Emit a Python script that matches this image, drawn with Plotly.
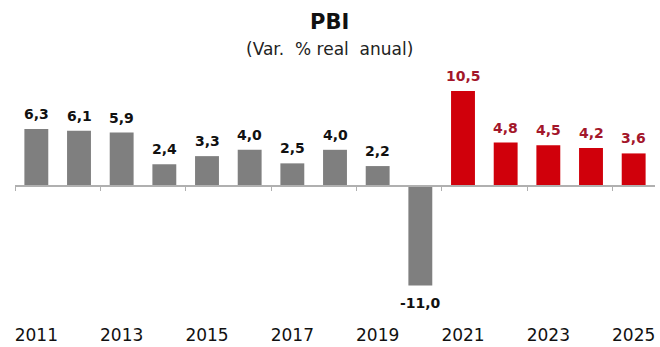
import plotly.graph_objects as go

years = [str(y) for y in range(2011, 2026)]
values = [6.3, 6.1, 5.9, 2.4, 3.3, 4.0, 2.5, 4.0, 2.2, -11.0, 10.5, 4.8, 4.5, 4.2, 3.6]
tick_years = ["2011", "2013", "2015", "2017", "2019", "2021", "2023", "2025"]

GRAY = "#7f7f7f"
RED = "#d0000b"
LABEL_RED = "#a3162a"

bar_colors = [GRAY if int(y) <= 2020 else RED for y in years]
label_colors = ["#111111" if int(y) <= 2020 else LABEL_RED for y in years]
labels = [f"{v:.1f}".replace(".", ",") for v in values]

YMIN, YMAX = -13.5, 11.5
n = len(years)

fig = go.Figure()
fig.add_trace(go.Bar(
    x=years, y=values,
    marker=dict(color=bar_colors, line=dict(width=0)),
    hoverinfo="x+y",
))
# invisible helper trace so the tick-mark baseline axis is drawn
fig.add_trace(go.Scatter(x=[-0.5, n - 0.5], y=[0, 0], xaxis="x2", mode="lines",
                         line=dict(width=0), hoverinfo="skip", showlegend=False))

annotations = [
    dict(x=i, y=v, xref="x", yref="y", text=lab, showarrow=False,
         xanchor="center", yanchor="bottom" if v >= 0 else "top",
         yshift=5 if v >= 0 else -8,
         font=dict(family="DejaVu Sans", size=14, color=c, weight="bold"))
    for i, (v, lab, c) in enumerate(zip(values, labels, label_colors))
]
annotations += [
    dict(text="<b>PBI</b>", xref="paper", yref="paper", x=0.491, y=(308 - 22) / 226,
         xanchor="center", yanchor="middle", showarrow=False,
         font=dict(family="DejaVu Sans", size=21, color="#111111")),
    dict(text="(Var.\u00a0\u00a0% real\u00a0\u00a0anual)", xref="paper", yref="paper",
         x=0.491, y=(308 - 49) / 226,
         xanchor="center", yanchor="middle", showarrow=False,
         font=dict(family="DejaVu Sans", size=17, color="#222222")),
]

fig.update_layout(
    width=660, height=347,
    margin=dict(l=15, r=5, t=82, b=39, autoexpand=False),
    paper_bgcolor="white", plot_bgcolor="white",
    bargap=0.44, showlegend=False,
    xaxis=dict(
        type="category", categoryorder="array", categoryarray=years,
        range=[-0.5, n - 0.5], autorange=False, automargin=False,
        tickmode="array", tickvals=tick_years, ticktext=tick_years,
        showgrid=False, showline=False, ticks="",
        tickfont=dict(family="DejaVu Sans", size=17, color="#111111"),
        ticklabelstandoff=15,
    ),
    xaxis2=dict(
        overlaying="x", anchor="free", position=-YMIN / (YMAX - YMIN),
        range=[-0.5, n - 0.5], autorange=False, automargin=False, tickmode="array",
        tickvals=[k - 0.5 for k in range(0, n + 1, 2)],
        ticks="outside", ticklen=4, tickcolor="#b0b0b0", tickwidth=1,
        showticklabels=False, showgrid=False, zeroline=False,
        showline=True, linecolor="#b0b0b0", linewidth=1.5,
    ),
    yaxis=dict(
        range=[YMIN, YMAX], autorange=False, automargin=False, showgrid=False,
        showticklabels=False, showline=False, zeroline=False,
    ),
    annotations=annotations,
)

fig.write_html("out.html")
